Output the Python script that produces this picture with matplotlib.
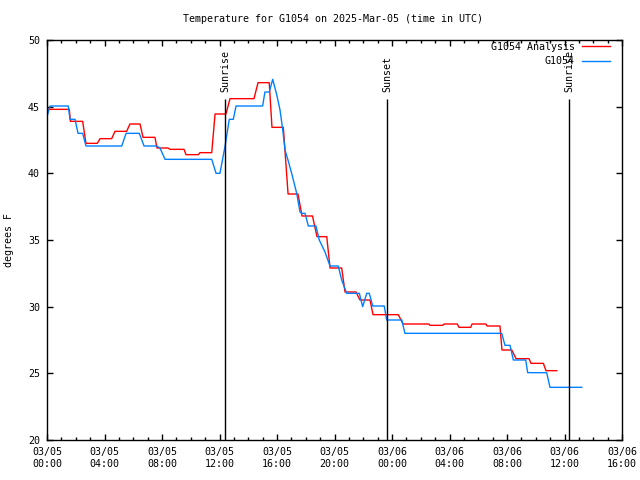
import matplotlib
matplotlib.use("Agg")
import matplotlib.pyplot as plt
import matplotlib.dates as mdates
import pandas as pd

plt.rcParams['font.family'] = ['DejaVu Sans Mono']
plt.rcParams['font.size'] = 7.2

# hours since 2025-03-05 00:00 UTC, values in degrees F
analysis_h = [0.0, 1.55, 1.63, 2.48, 2.71, 3.5, 3.69, 4.5, 4.73, 5.54, 5.77, 6.47, 6.68, 7.51,
              7.65, 8.42, 8.56, 9.53, 9.67, 10.53, 10.64, 11.46, 11.69, 12.45, 12.73, 14.4,
              14.68, 15.46, 15.65, 16.44, 16.77, 17.46, 17.74, 18.47, 18.78, 19.46, 19.69,
              20.5, 20.73, 21.5, 21.77, 22.47, 22.68, 24.44, 24.77, 26.57, 26.64, 27.53,
              27.62, 28.54, 28.66, 29.47, 29.57, 30.54, 30.61, 31.51, 31.65, 32.33, 32.63,
              33.53, 33.67, 34.53, 34.71, 35.46]
analysis_v = [44.8, 44.8, 43.9, 43.9, 42.25, 42.25, 42.6, 42.6, 43.15, 43.15, 43.7, 43.7, 42.7, 42.7,
              41.9, 41.9, 41.8, 41.8, 41.4, 41.4, 41.55, 41.55, 44.45, 44.45, 45.6, 45.6,
              46.8, 46.8, 43.45, 43.45, 38.45, 38.45, 36.8, 36.8, 35.25, 35.25, 32.9,
              32.9, 31.1, 31.1, 30.5, 30.5, 29.4, 29.4, 28.7, 28.7, 28.6, 28.6,
              28.7, 28.7, 28.45, 28.45, 28.7, 28.7, 28.55, 28.55, 26.75, 26.75, 26.1,
              26.1, 25.75, 25.75, 25.2, 25.2]

obs_h = [0.0, 0.21, 1.48, 1.6, 1.95, 2.16, 2.48, 2.71, 5.2, 5.5, 6.42, 6.75, 7.63, 7.86, 8.21,
         11.46, 11.76, 12.03, 12.38, 12.68, 12.96, 13.15, 15.0, 15.16, 15.46, 15.7, 15.98,
         16.21, 16.4, 16.56, 16.79, 17.02, 17.37, 17.6, 17.72, 17.95, 18.18, 18.71, 18.94,
         19.34, 19.57, 19.69, 20.26, 20.5, 20.85, 21.73, 21.96, 22.24, 22.42, 22.66, 23.46,
         23.63, 24.68, 24.9, 31.63, 31.86, 32.21, 32.44, 33.3, 33.44, 34.76, 34.99, 37.2]
obs_v = [44.25, 45.05, 45.05, 44.05, 44.05, 43.0, 43.0, 42.05, 42.05, 43.0, 43.0, 42.05, 42.05, 41.9, 41.05,
         41.05, 40.0, 40.0, 42.0, 44.05, 44.05, 45.05, 45.05, 46.1, 46.1, 47.05, 45.9,
         44.75, 43.25, 41.75, 40.9, 40.0, 38.5, 37.1, 37.0, 37.0, 36.05, 36.05, 35.0,
         34.1, 33.4, 33.05, 33.05, 32.0, 31.0, 31.0, 30.0, 31.0, 31.0, 30.05, 30.05,
         29.0, 29.0, 28.0, 28.0, 27.1, 27.1, 26.0, 26.0, 25.05, 25.05, 23.95, 23.95]

sun_labels = ['Sunrise', 'Sunset', 'Sunrise']
sun_times = ['2025-03-05 12:23', '2025-03-05 23:39', '2025-03-06 12:19']

start = pd.Timestamp('2025-03-05 00:00')
end = pd.Timestamp('2025-03-06 16:00')
t_analysis = start + pd.to_timedelta(analysis_h, unit='h')
t_obs = start + pd.to_timedelta(obs_h, unit='h')

fig = plt.figure(figsize=(6.4, 4.8), dpi=100)
ax = fig.add_axes([47/640, 40/480, 575/640, 400/480])

ax.plot(t_analysis, analysis_v, color='#ff0000', lw=1.0, label='G1054 Analysis')
ax.plot(t_obs, obs_v, color='#0080ff', lw=1.0, label='G1054')

for lab, ts in zip(sun_labels, sun_times):
    x = pd.Timestamp(ts)
    ax.vlines(x, 20, 45.6, color='black', lw=1.0)
    ax.text(x, 46.1, lab, rotation=90, ha='center', va='bottom')

ax.set_xlim(start, end)
ax.set_ylim(20, 50)
ax.set_yticks(range(20, 51, 5))
ax.xaxis.set_major_locator(mdates.HourLocator(byhour=range(0, 24, 4)))
ax.xaxis.set_minor_locator(mdates.HourLocator())
ax.xaxis.set_major_formatter(mdates.DateFormatter('%m/%d\n%H:%M'))
ax.tick_params(which='both', direction='in', top=True, right=True, width=1.0)
ax.tick_params(which='major', length=4.5, pad=5)
ax.tick_params(which='minor', length=2.2)
for s in ax.spines.values():
    s.set_linewidth(1.0)

ax.set_ylabel('degrees F', labelpad=10)
fig.text(333/640, 1 - 19/480, 'Temperature for G1054 on 2025-Mar-05 (time in UTC)',
         ha='center', va='center')

ax.legend(loc='upper right', bbox_to_anchor=(0.979, 0.995), frameon=False,
          markerfirst=False, handlelength=2.8, handletextpad=0.7,
          borderpad=0, borderaxespad=0, labelspacing=0.45)

fig.savefig('out.png', dpi=100)
